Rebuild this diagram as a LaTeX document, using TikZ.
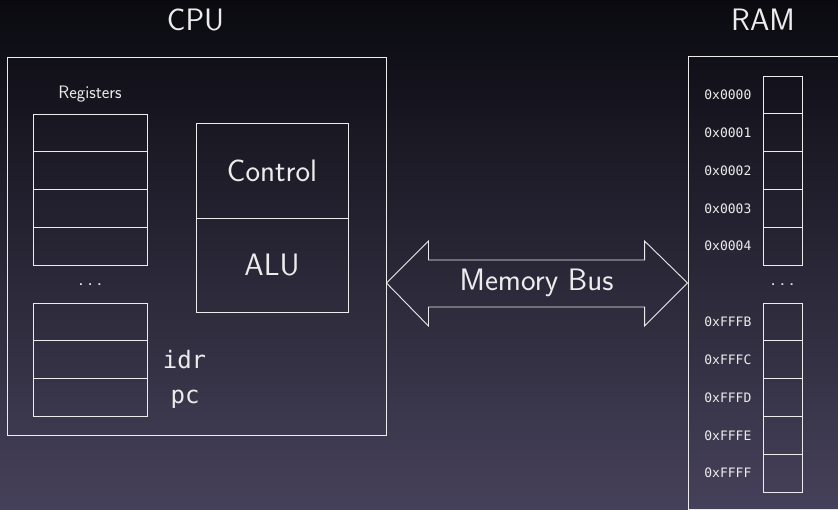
\documentclass[tikz,border=0pt]{standalone}
\usepackage{fontspec}
\setmonofont{DejaVu Sans Mono}
\usetikzlibrary{calc}

\definecolor{bgtop}{RGB}{10,10,16}
\definecolor{bgmid}{RGB}{30,29,45}
\definecolor{bgbot}{RGB}{70,65,90}
\definecolor{ink}{RGB}{236,236,236}

% three spaced dots
\newcommand{\gapdots}{.\hspace{3.6pt}.\hspace{3.6pt}.}

\begin{document}
\begin{tikzpicture}[x=1pt,y=-1pt,
  every node/.style={text=ink},
  edge/.style={draw=ink, line width=0.9pt},
  frame/.style={edge, rectangle, inner sep=0pt},
  cell/.style={frame, minimum width=113.5pt, minimum height=37.8pt},
  memcell/.style={frame, minimum width=39pt, minimum height=37.8pt},
  big/.style={font=\sffamily\fontsize{31}{33}\selectfont},
  small/.style={font=\sffamily\fontsize{18}{20}\selectfont},
  dotstyle/.style={font=\sffamily\fontsize{22}{24}\selectfont, anchor=base},
  regname/.style={font=\ttfamily\fontsize{24}{26}\selectfont},
  addr/.style={font=\ttfamily\fontsize{13}{15}\selectfont, anchor=east, inner sep=0pt},
]
% slide background
\fill[top color=bgtop, middle color=bgmid, bottom color=bgbot] (0,0) rectangle (838,510);
\useasboundingbox (0,0) rectangle (838,510);
\clip (0,0) rectangle (838,510);

% titles
\node[big] (cputitle) at (195.5,19.5) {CPU};
\node[big] (ramtitle) at (763,19.5) {RAM};

% CPU
\node[frame, minimum width=379pt, minimum height=378pt] (cpu) at (196.5,246) {};
\node[small, anchor=base] (reglabel) at (90,99) {Registers};
\foreach \i in {0,...,3}
  \node[cell] (ra\i) at (90.25,{132.9+37.8*\i}) {};
\node[dotstyle] (rdots) at (90.25,286) {\gapdots};
\foreach \i in {0,1,2}
  \node[cell] (rb\i) at (90.25,{321.9+37.7*\i}) {};
\node[regname, anchor=base] (idr) at (184.5,369) {idr};
\node[regname, anchor=base] (pc) at (185,403) {pc};

\node[frame, big, minimum width=152pt, minimum height=95pt] (control) at (272,170.5) {Control};
\node[frame, big, minimum width=152pt, minimum height=94pt] (alu) at (272,265) {ALU};

% RAM
\node[frame, minimum width=212pt, minimum height=453pt] (ram) at (794,282.5) {};
\foreach \a [count=\i from 0] in {0000,0001,0002,0003,0004} {
  \node[memcell] (lo\i) at (782.5,{94.9+37.8*\i}) {};
  \node[addr] (loa\i) at ($(lo\i.west)+(-11,0)$) {0x\a};
}
\node[dotstyle] (mdots) at (782.5,286) {\gapdots};
\foreach \a [count=\i from 0] in {FFFB,FFFC,FFFD,FFFE,FFFF} {
  \node[memcell] (hi\i) at (782.5,{321.9+37.8*\i}) {};
  \node[addr] (hia\i) at ($(hi\i.west)+(-11,0)$) {0x\a};
}

% memory bus
\coordinate (busy) at (0,283);
\coordinate (busL) at (cpu.east |- busy);
\coordinate (busR) at (ram.west |- busy);
\draw[edge, line join=miter] (busL) -- ++(42,-42) -- ++(0,19)
  -- ($(busR)+(-43,-23)$) -- ++(0,-19) -- (busR) -- ++(-43,43) -- ++(0,-19)
  -- ($(busL)+(42,24)$) -- ++(0,19) -- cycle;
\node[big, anchor=base] (bus) at (536.5,291) {Memory Bus};
\end{tikzpicture}
\end{document}
